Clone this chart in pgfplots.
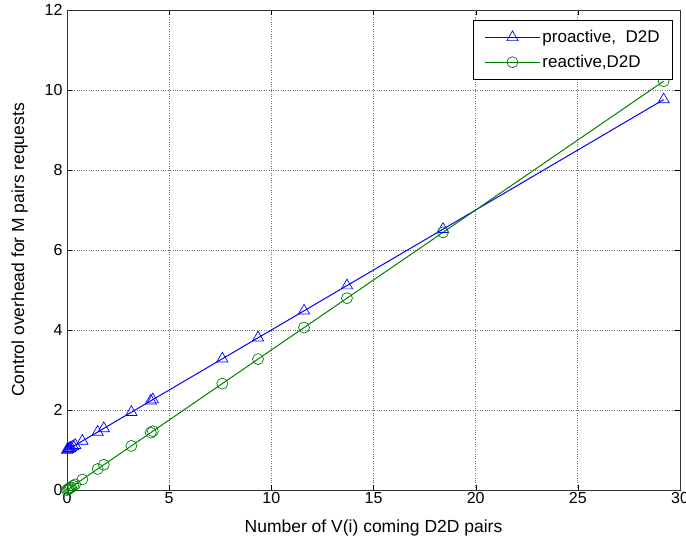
\documentclass[border=0pt]{standalone}
\usepackage{pgfplots}
\pgfplotsset{compat=1.18}
\usepackage{fontspec}
\setmainfont{Liberation Sans}
\definecolor{mblue}{RGB}{0,0,255}
\definecolor{mgreen}{RGB}{0,128,0}
\begin{document}
\begin{tikzpicture}
\begin{axis}[
  scale only axis,
  width=613pt, height=480pt,
  xmin=0, xmax=30, ymin=0, ymax=12,
  xtick={0,5,...,30}, ytick={0,2,...,12},
  grid=major,
  major grid style={black!55, dotted, line width=0.7pt},
  tick align=inside,
  tick pos=both,
  major tick length=5pt,
  axis line style={black!80, line width=0.8pt},
  tick style={black},
  ticklabel style={font=\fontsize{16}{18}\selectfont},
  xticklabel style={yshift=1pt},
  yticklabel style={xshift=-1pt},
  /pgf/number format/assume math mode=true,
  xlabel={Number of V(i) coming D2D pairs},
  ylabel={Control overhead for M pairs requests},
  label style={font=\fontsize{17.5}{20}\selectfont},
  xlabel style={yshift=-9pt},
  ylabel style={yshift=10pt},
  legend style={at={(0.9886,0.979)}, anchor=north east, draw=black, line width=0.8pt,
    font=\fontsize{17}{20}\selectfont, row sep=7pt, inner xsep=11pt, inner ysep=8pt},
  legend cell align=left,
  legend image code/.code={
    \draw[mark repeat=2,mark phase=2] plot coordinates {(0pt,0pt) (27.5pt,0pt) (55pt,0pt)};
  },
]
\addplot[mblue, line width=1pt, mark=triangle, mark size=6.5pt, mark options={solid, line width=0.7pt}]
coordinates {
(0,1.0) (0.05,1.015) (0.1,1.03) (0.15,1.045) (0.2,1.06) (0.3,1.09) (0.4,1.12)
(0.75,1.225) (1.5,1.45) (1.8,1.54) (3.15,1.945) (4.1,2.23) (4.2,2.26)
(7.6,3.28) (9.35,3.805) (11.6,4.48) (13.7,5.11) (18.4,6.52) (29.2,9.76)
};
\addlegendentry{proactive,\ \ D2D}
\addplot[mgreen, line width=1pt, mark=o, mark size=5.5pt, mark options={solid, line width=0.7pt}]
coordinates {
(0,0.0) (0.05,0.0175) (0.1,0.035) (0.15,0.0525) (0.2,0.07) (0.3,0.105) (0.4,0.14)
(0.75,0.2625) (1.5,0.525) (1.8,0.63) (3.15,1.1025) (4.1,1.435) (4.2,1.47)
(7.6,2.66) (9.35,3.2725) (11.6,4.06) (13.7,4.795) (18.4,6.44) (29.2,10.22)
};
\addlegendentry{reactive,D2D}
\end{axis}
\pgfresetboundingbox
\path[use as bounding box] (current axis.south west) ++(-67pt,-54pt) rectangle ([xshift=6pt,yshift=10pt]current axis.north east);
\end{tikzpicture}
\end{document}
